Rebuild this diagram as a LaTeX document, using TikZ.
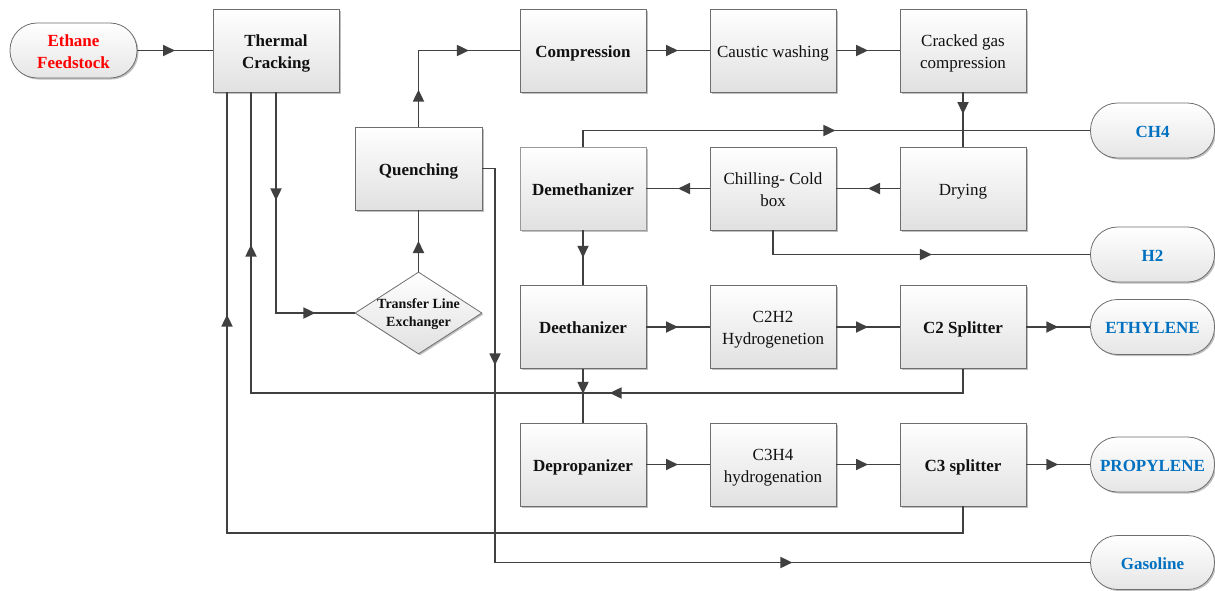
\documentclass[tikz,border=0pt]{standalone}
\usepackage{fontspec}
\setmainfont{Liberation Serif}
\usetikzlibrary{arrows.meta,shapes.geometric,decorations.markings,shadows}
\definecolor{ln}{HTML}{404040}
\definecolor{bx}{HTML}{6E6E6E}
\definecolor{blu}{HTML}{0070C0}
\definecolor{rd}{HTML}{FF0000}
\definecolor{txt}{HTML}{111111}
\newcommand\boxtext[1]{\raisebox{-2.5pt}[\height][\depth]{\begin{tabular}{@{}c@{}}#1\end{tabular}}}
\tikzset{
  >={Triangle[length=12pt,width=11pt]},
  shad/.style={drop shadow={shadow xshift=1.5pt,shadow yshift=-1.5pt,opacity=0.25,fill=black}},
  proc/.style={shad,draw=bx,line width=0.8pt,top color=white,bottom color=black!12,
    minimum width=126pt,minimum height=83pt,inner sep=2pt,align=center,text=txt,
    font=\fontsize{17}{22}\selectfont},
  bproc/.style={proc,font=\fontsize{17}{22}\selectfont\bfseries},
  term/.style={shad,draw=bx,line width=0.8pt,rounded corners=27pt,top color=white,bottom color=black!10,
    minimum width=125pt,minimum height=55pt,inner sep=2pt,align=center,text=blu,
    font=\fontsize{17}{22}\selectfont\bfseries},
  conn/.style={draw=ln,line width=1.8pt},
  arr/.style={postaction={decorate},decoration={markings,mark=at position #1 with {\arrow[color=ln]{>}}}},
  arrtwo/.style 2 args={postaction={decorate},decoration={markings,
    mark=at position #1 with {\arrow[color=ln]{>}},
    mark=at position #2 with {\arrow[color=ln]{>}}}}
}
\begin{document}
\begin{tikzpicture}[x=1pt,y=-1pt]
\useasboundingbox (0,0) rectangle (1215,590);
% nodes
\node[term,text=rd,minimum width=127pt] (feed) at (73.5,50.5) {\boxtext{Ethane\\Feedstock}};
\node[bproc] (therm) at (276,50.5) {\boxtext{Thermal\\Cracking}};
\node[bproc] (comp) at (583,50.5) {\boxtext{Compression}};
\node[proc] (caus) at (773,50.5) {\boxtext{Caustic washing}};
\node[proc] (crack) at (963,50.5) {\boxtext{Cracked gas\\compression}};
\node[bproc,minimum width=127pt] (quench) at (418.5,168.5) {\boxtext{Quenching}};
\node[term,minimum width=124pt] (ch4) at (1152.5,130.5) {\boxtext{CH4}};
\node[bproc,draw=black!40] (demeth) at (583,188.5) {\boxtext{Demethanizer}};
\node[proc] (chill) at (773,188.5) {\boxtext{Chilling- Cold\\box}};
\node[proc] (dry) at (963,188.5) {\boxtext{Drying}};
\node[term,minimum width=124pt] (h2) at (1152.5,254.5) {\boxtext{H2}};
\node[shad,diamond,draw=bx,line width=0.8pt,top color=white,bottom color=black!12,
  minimum width=127pt,minimum height=82pt,inner sep=0pt] (tle) at (418.5,313) {};
\node[font=\fontsize{14}{18}\selectfont\bfseries,text=txt,align=center] (tletext) at ([yshift=-1.5pt]tle.center) {Transfer Line\\Exchanger};
\node[bproc] (deeth) at (583,327) {\boxtext{Deethanizer}};
\node[proc] (c2h2) at (773,327) {\boxtext{C2H2\\Hydrogenetion}};
\node[bproc] (c2s) at (963,327) {\boxtext{C2 Splitter}};
\node[term,minimum width=124pt] (eth) at (1152.5,327) {\boxtext{ETHYLENE}};
\node[bproc] (deprop) at (583,464.5) {\boxtext{Depropanizer}};
\node[proc] (c3h4) at (773,464.5) {\boxtext{C3H4\\hydrogenation}};
\node[bproc] (c3s) at (963,464.5) {\boxtext{C3 splitter}};
\node[term,minimum width=124pt] (prop) at (1152.5,464.5) {\boxtext{PROPYLENE}};
\node[term,minimum width=124pt,minimum height=54pt] (gas) at (1152.5,562.5) {\boxtext{Gasoline}};
% bend coordinates
\coordinate (c2r) at (963,393);
\coordinate (c3r) at (963,533);
\coordinate (qg) at (495,168.5);
% connectors
\draw[conn,arr=0.5] (feed) -- (therm);
\draw[conn,arrtwo={37pt}{126.5pt}] (quench.north) |- (comp.west);
\draw[conn,arr=0.5] (comp) -- (caus);
\draw[conn,arr=0.5] (caus) -- (crack);
\draw[conn,arr=0.4] (crack) -- (dry);
\draw[conn,arr=0.5] (dry) -- (chill);
\draw[conn,arr=0.5] (chill) -- (demeth);
\draw[conn,arr=268.5pt] (demeth.north) |- (ch4.west);
\draw[conn,arr=183pt] (chill.south) |- (h2.west);
\draw[conn,arr=0.5] (demeth) -- (deeth);
\draw[conn,arr=0.5] (deeth) -- (c2h2);
\draw[conn,arr=0.5] (c2h2) -- (c2s);
\draw[conn,arr=0.5] (c2s) -- (eth);
\draw[conn,arr=25pt] (deeth) -- (deprop);
\draw[conn,arr=0.5] (deprop) -- (c3h4);
\draw[conn,arr=0.5] (c3h4) -- (c3s);
\draw[conn,arr=0.5] (c3s) -- (prop);
\draw[conn,arrtwo={377.5pt}{884.5pt}] (c2s.south) -- (c2r) -| ([xshift=-25pt]therm.south);
\draw[conn,arr=981pt] (c3s.south) -- (c3r) -| ([xshift=-49pt]therm.south);
\draw[conn,arrtwo={209.5pt}{704pt}] (quench.east) -- (qg) |- (gas.west);
\draw[conn,arrtwo={108pt}{260pt}] (therm.south) |- (tle.west);
\draw[conn,arr=0.5] (tle.north) -- (quench.south);
\end{tikzpicture}
\end{document}
